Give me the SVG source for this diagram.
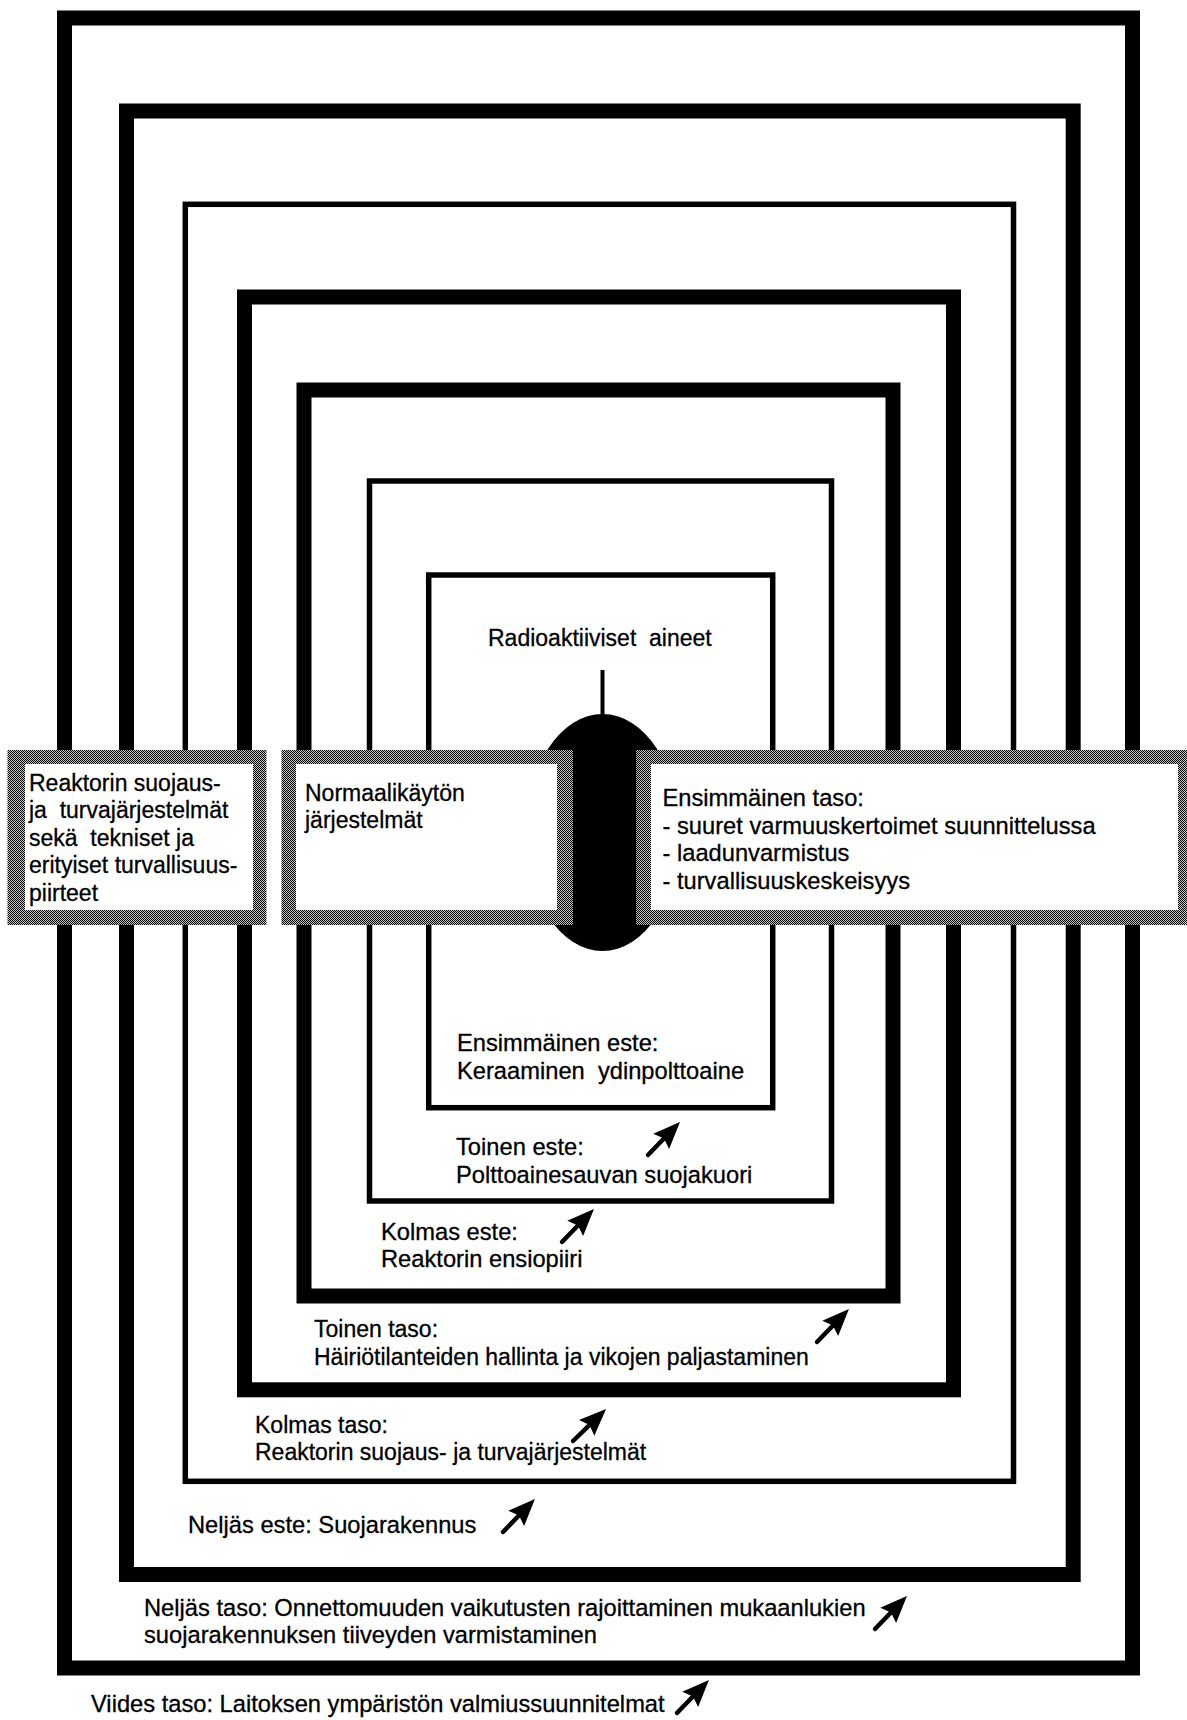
<svg xmlns="http://www.w3.org/2000/svg" width="1187" height="1720" viewBox="0 0 1187 1720">
<defs>
<pattern id="dither" width="2" height="2" patternUnits="userSpaceOnUse"><rect width="2" height="2" fill="#c4c4c4"/><rect width="1" height="1" fill="#000"/><rect x="1" y="1" width="1" height="1" fill="#000"/></pattern>
<g id="arrow"><line x1="0" y1="0" x2="25" y2="0" stroke="#000" stroke-width="4.5" stroke-linecap="round"/><path d="M46,0 L19,-11 L23,0 L19,11 Z" fill="#000"/></g>
</defs>
<style>
text{font-family:"Liberation Sans",Arial,Helvetica,sans-serif;font-size:23px;fill:#000;stroke:#000;stroke-width:0.3}
text.big{font-size:23.7px}
.thick{fill:none;stroke:#000;stroke-width:15}
.thin{fill:none;stroke:#000;stroke-width:5.5}
.shade{fill:url(#dither)}
.inner{fill:#fff}
</style>
<rect width="1187" height="1720" fill="#fff"/>

<g id="level5-rect"><rect class="thick" x="64.5" y="18" width="1068" height="1650"/></g>
<g id="level4-rect"><rect class="thick" x="126.5" y="111" width="946.7" height="1463.5"/></g>
<g id="barrier4-rect"><rect class="thin" x="185.3" y="204.3" width="828.2" height="1277"/></g>
<g id="level3-rect"><rect class="thick" x="244.5" y="297" width="709" height="1092.8"/></g>
<g id="level2-rect"><rect class="thick" x="304" y="390" width="589" height="906"/></g>
<g id="barrier3-rect"><rect class="thin" x="369.5" y="481" width="462" height="720"/></g>
<g id="barrier2-rect"><rect class="thin" x="428.7" y="575" width="344" height="532.7"/></g>

<g id="radioactive">
<text x="488" y="646" xml:space="preserve">Radioaktiiviset  aineet</text>
<line x1="602.5" y1="670" x2="602.5" y2="716" stroke="#000" stroke-width="4"/>
<ellipse cx="602.5" cy="832.5" rx="77" ry="118.5" fill="#000"/>
</g>

<g id="box-safety-systems">
<rect class="shade" x="7.5" y="750" width="259" height="175"/>
<rect class="inner" x="25" y="764" width="228" height="146"/>
<text><tspan x="29" y="790.5">Reaktorin suojaus-</tspan><tspan x="29" y="818" xml:space="preserve">ja  turvajärjestelmät</tspan><tspan x="29" y="845.5" xml:space="preserve">sekä  tekniset ja</tspan><tspan x="29" y="873">erityiset turvallisuus-</tspan><tspan x="29" y="900.5">piirteet</tspan></text>
</g>

<g id="box-normal-operation">
<rect class="shade" x="281.5" y="750" width="291.5" height="175"/>
<rect class="inner" x="296" y="764" width="261" height="146"/>
<text><tspan x="305" y="800.5">Normaalikäytön</tspan><tspan x="305" y="828">järjestelmät</tspan></text>
</g>

<g id="box-level1">
<rect class="shade" x="636" y="750" width="551" height="175"/>
<rect class="inner" x="651" y="764" width="527" height="146"/>
<text class="big"><tspan x="662.5" y="806">Ensimmäinen taso:</tspan><tspan x="662.5" y="833.5">- suuret varmuuskertoimet suunnittelussa</tspan><tspan x="662.5" y="861">- laadunvarmistus</tspan><tspan x="662.5" y="888.5">- turvallisuuskeskeisyys</tspan></text>
</g>

<g id="label-barrier1"><text class="big" xml:space="preserve"><tspan x="457" y="1051">Ensimmäinen este:</tspan><tspan x="457" y="1079">Keraaminen  ydinpolttoaine</tspan></text></g>
<g id="label-barrier2"><text class="big"><tspan x="456" y="1155">Toinen este:</tspan><tspan x="456" y="1183">Polttoainesauvan suojakuori</tspan></text></g>
<g id="label-barrier3"><text class="big"><tspan x="381" y="1240">Kolmas este:</tspan><tspan x="381" y="1267">Reaktorin ensiopiiri</tspan></text></g>
<g id="label-level2"><text><tspan x="314" y="1337">Toinen taso:</tspan><tspan x="314" y="1365">Häiriötilanteiden hallinta ja vikojen paljastaminen</tspan></text></g>
<g id="label-level3"><text><tspan x="255" y="1433">Kolmas taso:</tspan><tspan x="255" y="1460">Reaktorin suojaus- ja turvajärjestelmät</tspan></text></g>
<g id="label-barrier4"><text class="big" x="188" y="1533">Neljäs este: Suojarakennus</text></g>
<g id="label-level4"><text class="big"><tspan x="144" y="1616">Neljäs taso: Onnettomuuden vaikutusten rajoittaminen mukaanlukien</tspan><tspan x="144" y="1643">suojarakennuksen tiiveyden varmistaminen</tspan></text></g>
<g id="label-level5"><text class="big" x="91" y="1712">Viides taso: Laitoksen ympäristön valmiussuunnitelmat</text></g>

<g id="connectors">
<use href="#arrow" transform="translate(648,1155) rotate(-46)"/>
<use href="#arrow" transform="translate(562,1242) rotate(-46)"/>
<use href="#arrow" transform="translate(817,1342) rotate(-46)"/>
<use href="#arrow" transform="translate(573,1441) rotate(-44)"/>
<use href="#arrow" transform="translate(503,1532) rotate(-46)"/>
<use href="#arrow" transform="translate(875,1629) rotate(-46)"/>
<use href="#arrow" transform="translate(677,1713) rotate(-46)"/>
</g>
</svg>
